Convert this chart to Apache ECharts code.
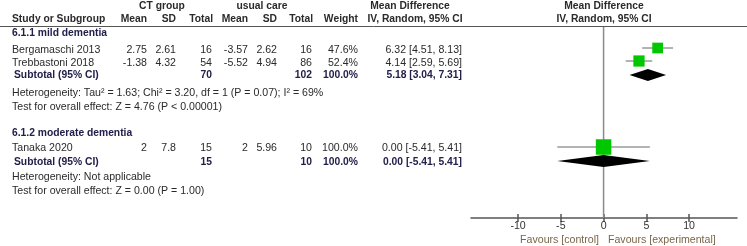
<!DOCTYPE html>
<html>
<head>
<meta charset="utf-8">
<script src="https://cdn.jsdelivr.net/npm/echarts@6/dist/echarts.min.js"></script>
<style>
  html, body { margin: 0; padding: 0; background: #fff; }
  #chart { width: 747px; height: 246px; }
</style>
</head>
<body>
<div id="chart"></div>
<script>
// data
var studies = ['Bergamaschi 2013', 'Trebbastoni 2018', 'Tanaka 2020'];
var ctMean = [2.75, -1.38, 2];
var ctSD = [2.61, 4.32, 7.8];
var ctTotal = [16, 54, 15];
var ucMean = [-3.57, -5.52, 2];
var ucSD = [2.62, 4.94, 5.96];
var ucTotal = [16, 86, 10];
var weight = [47.6, 52.4, 100.0];
var md = [6.32, 4.14, 0.00];
var mdLow = [4.51, 2.59, -5.41];
var mdHigh = [8.13, 5.69, 5.41];

var groups = ['6.1.1 mild dementia', '6.1.2 moderate dementia'];
var subCtTotal = [70, 15];
var subUcTotal = [102, 10];
var subWeight = [100.0, 100.0];
var subMd = [5.18, 0.00];
var subLow = [3.04, -5.41];
var subHigh = [7.31, 5.41];
var heterogeneity = [
  'Heterogeneity: Tau\u00b2 = 1.63; Chi\u00b2 = 3.20, df = 1 (P = 0.07); I\u00b2 = 69%',
  'Heterogeneity: Not applicable'
];
var overallTest = [
  'Test for overall effect: Z = 4.76 (P < 0.00001)',
  'Test for overall effect: Z = 0.00 (P = 1.00)'
];
var tickValues = [-10, -5, 0, 5, 10];
var favours = ['Favours [control]', 'Favours [experimental]'];

// layout (pixel rows and column right edges)
var studyRowY = [50, 63, 148];
var squareY = [48, 61, 147];
var groupRowY = [33, 133];
var subRowY = [75, 162];
var diamondY = [75, 161];
var hetRowY = [93, 177];
var testRowY = [107, 191];
var col = { study: 12, ctMean: 147, ctSD: 176, ctTotal: 212, ucMean: 248, ucSD: 277, ucTotal: 312, weight: 358, md: 462 };

var FONT = '10.6px "Liberation Sans", Arial, sans-serif';
var BOLD = 'bold 10.3px "Liberation Sans", Arial, sans-serif';
var TXT = '#2a2a2a';
var DARK = '#20204a';

function fmtCI(m, l, h) {
  return m.toFixed(2) + ' [' + l.toFixed(2) + ', ' + h.toFixed(2) + ']';
}
function txt(s, x, y, align, font, color) {
  return {
    type: 'text', silent: true,
    style: { text: s, x: x, y: y, textAlign: align || 'left', textVerticalAlign: 'middle', font: font || FONT, fill: color || TXT }
  };
}

var g = [];
// header
g.push(txt('CT group', 162, 6, 'center', BOLD, TXT));
g.push(txt('usual care', 262, 6, 'center', BOLD, TXT));
g.push(txt('Mean Difference', 410, 6, 'center', BOLD, TXT));
g.push(txt('Mean Difference', 604, 6, 'center', BOLD, TXT));
g.push(txt('Study or Subgroup', col.study, 19, 'left', BOLD, TXT));
g.push(txt('Mean', col.ctMean, 19, 'right', BOLD, TXT));
g.push(txt('SD', col.ctSD, 19, 'right', BOLD, TXT));
g.push(txt('Total', col.ctTotal + 1, 19, 'right', BOLD, TXT));
g.push(txt('Mean', col.ucMean, 19, 'right', BOLD, TXT));
g.push(txt('SD', col.ucSD, 19, 'right', BOLD, TXT));
g.push(txt('Total', col.ucTotal + 1, 19, 'right', BOLD, TXT));
g.push(txt('Weight', col.weight, 19, 'right', BOLD, TXT));
g.push(txt('IV, Random, 95% CI', 415, 19, 'center', BOLD, TXT));
g.push(txt('IV, Random, 95% CI', 604, 19, 'center', BOLD, TXT));
g.push({ type: 'line', silent: true, shape: { x1: 0, y1: 26.5, x2: 747, y2: 26.5 }, style: { stroke: '#555', lineWidth: 1 } });

// studies
studies.forEach(function (s, i) {
  var y = studyRowY[i];
  g.push(txt(s, col.study, y));
  g.push(txt(String(ctMean[i]), col.ctMean, y, 'right'));
  g.push(txt(String(ctSD[i]), col.ctSD, y, 'right'));
  g.push(txt(String(ctTotal[i]), col.ctTotal, y, 'right'));
  g.push(txt(String(ucMean[i]), col.ucMean, y, 'right'));
  g.push(txt(String(ucSD[i]), col.ucSD, y, 'right'));
  g.push(txt(String(ucTotal[i]), col.ucTotal, y, 'right'));
  g.push(txt(weight[i].toFixed(1) + '%', col.weight, y, 'right'));
  g.push(txt(fmtCI(md[i], mdLow[i], mdHigh[i]), col.md, y, 'right'));
});

// subgroups
groups.forEach(function (name, k) {
  g.push(txt(name, col.study, groupRowY[k], 'left', BOLD, DARK));
  var y = subRowY[k];
  g.push(txt('Subtotal (95% CI)', col.study + 2, y, 'left', BOLD, DARK));
  g.push(txt(String(subCtTotal[k]), col.ctTotal, y, 'right', BOLD, DARK));
  g.push(txt(String(subUcTotal[k]), col.ucTotal, y, 'right', BOLD, DARK));
  g.push(txt(subWeight[k].toFixed(1) + '%', col.weight, y, 'right', BOLD, DARK));
  g.push(txt(fmtCI(subMd[k], subLow[k], subHigh[k]), col.md, y, 'right', BOLD, DARK));
  g.push(txt(heterogeneity[k], col.study, hetRowY[k]));
  g.push(txt(overallTest[k], col.study, testRowY[k]));
});

// favours
g.push(txt(favours[0], 599, 240, 'right', FONT, '#7a6548'));
g.push(txt(favours[1], 608, 240, 'left', FONT, '#7a6548'));

var chart = echarts.init(document.getElementById('chart'), null, { renderer: 'canvas' });
chart.setOption({
  animation: false,
  grid: { left: 471, right: 10, top: 27, bottom: 28 },
  xAxis: [{
    type: 'value', min: -15.5, max: 15.6,
    splitLine: { show: false },
    axisLine: { show: true, onZero: false, lineStyle: { color: '#555', width: 1.5 } },
    axisTick: { show: true, customValues: tickValues, length: 4, lineStyle: { color: '#555', width: 1.5 } },
    axisLabel: { customValues: tickValues, margin: 3, color: '#333', fontSize: 10.6, fontFamily: 'Liberation Sans, Arial' }
  }, {
    type: 'value', min: -15.5, max: 15.6, position: 'bottom',
    splitLine: { show: false },
    axisLine: { show: false },
    axisTick: { show: true, inside: true, customValues: tickValues, length: 4, lineStyle: { color: '#555', width: 1.5 } },
    axisLabel: { show: false }
  }],
  yAxis: { type: 'value', min: 27, max: 218, inverse: true, show: false },
  graphic: g,
  series: [{
    // zero line
    type: 'custom',
    silent: true,
    data: [[0]],
    renderItem: function (params, api) {
      var a = api.coord([0, 27]);
      var b = api.coord([0, 218]);
      return { type: 'line', shape: { x1: a[0], y1: a[1], x2: b[0], y2: b[1] }, style: { stroke: '#8a8a8a', lineWidth: 1.5 } };
    }
  }, {
    // confidence intervals
    type: 'custom',
    silent: true,
    data: studies.map(function (s, i) { return [mdLow[i], mdHigh[i], squareY[i]]; }),
    renderItem: function (params, api) {
      var a = api.coord([api.value(0), api.value(2)]);
      var b = api.coord([api.value(1), api.value(2)]);
      return { type: 'line', shape: { x1: a[0], y1: a[1], x2: b[0], y2: b[1] }, style: { stroke: '#666', lineWidth: 1 } };
    }
  }, {
    // squares
    type: 'scatter',
    silent: true,
    symbol: 'rect',
    data: studies.map(function (s, i) { return [md[i], squareY[i], weight[i]]; }),
    symbolSize: function (v) { return 1.55 * Math.sqrt(v[2]); },
    itemStyle: { color: '#00c800', opacity: 1 },
    z: 3
  }, {
    // diamonds
    type: 'custom',
    silent: true,
    data: groups.map(function (n, k) { return [subLow[k], subMd[k], subHigh[k], diamondY[k]]; }),
    renderItem: function (params, api) {
      var y = api.value(3);
      var p1 = api.coord([api.value(0), y]);
      var p2 = api.coord([api.value(1), y - 6]);
      var p3 = api.coord([api.value(2), y]);
      var p4 = api.coord([api.value(1), y + 6]);
      return { type: 'polygon', shape: { points: [p1, p2, p3, p4] }, style: { fill: '#000' } };
    },
    z: 4
  }]
});
</script>
</body>
</html>
